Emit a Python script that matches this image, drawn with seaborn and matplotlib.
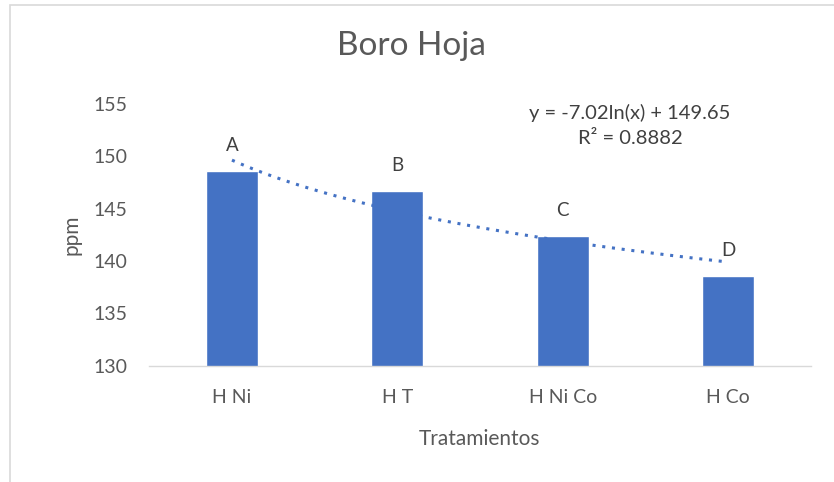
import numpy as np
import pandas as pd
import seaborn as sns
import matplotlib.pyplot as plt
from matplotlib.patches import Rectangle

tratamientos = ['H Ni', 'H T', 'H Ni Co', 'H Co']
ppm = [148.6, 146.7, 142.4, 138.6]
letras = ['A', 'B', 'C', 'D']
coef_a = -7.02
coef_b = 149.65
r2 = 0.8882

sns.set_style('white')
plt.rcParams['font.family'] = ['Lato', 'DejaVu Sans']
gris = '#595959'
azul = '#4472C4'

df = pd.DataFrame({'Tratamientos': tratamientos, 'ppm': ppm})

fig = plt.figure(figsize=(8.34, 4.82), dpi=100)
ax = fig.add_axes([0.179, 0.241, 0.793, 0.543])

sns.barplot(data=df, x='Tratamientos', y='ppm', color=azul, width=0.315,
            saturation=1, ax=ax)

# linea de tendencia logaritmica
xs = np.linspace(1, 4, 100)
ax.plot(xs - 1, coef_a * np.log(xs) + coef_b, linestyle=(0, (1, 2.2)),
        color=azul, linewidth=2.2)

for i, (v, l) in enumerate(zip(ppm, letras)):
    ax.text(i, v + 2.4, l, ha='center', va='center', fontsize=13.5, color='#404040')

ax.text(0.727, 0.965, 'y = -7.02ln(x) + 149.65', transform=ax.transAxes,
        ha='center', va='center', fontsize=14.5, color='#404040')
ax.text(0.727, 0.87, 'R² = {}'.format(r2), transform=ax.transAxes,
        ha='center', va='center', fontsize=14.5, color='#404040')

ax.set_ylim(130, 155)
ax.set_xlim(-0.5, 3.5)
ax.set_yticks([130, 135, 140, 145, 150, 155])
ax.tick_params(axis='both', length=0, labelsize=14, labelcolor=gris)
ax.tick_params(axis='y', pad=16)
ax.tick_params(axis='x', pad=17)
ax.set_xlabel('Tratamientos', fontsize=15, color=gris, labelpad=16)
ax.set_ylabel('ppm', fontsize=15, color=gris, labelpad=8)
for s in ['top', 'right', 'left']:
    ax.spines[s].set_visible(False)
ax.spines['bottom'].set_color('#d9d9d9')
ax.spines['bottom'].set_linewidth(1)

fig.suptitle('Boro Hoja', fontsize=24, color=gris, x=0.493, y=0.935)

fig.patches.append(Rectangle((10 / 834, -0.1), 1.2, 1 - 5 / 482 + 0.1,
                             transform=fig.transFigure, fill=False,
                             edgecolor='#d9d9d9', linewidth=1.2))

plt.savefig('out.png', dpi=100)
